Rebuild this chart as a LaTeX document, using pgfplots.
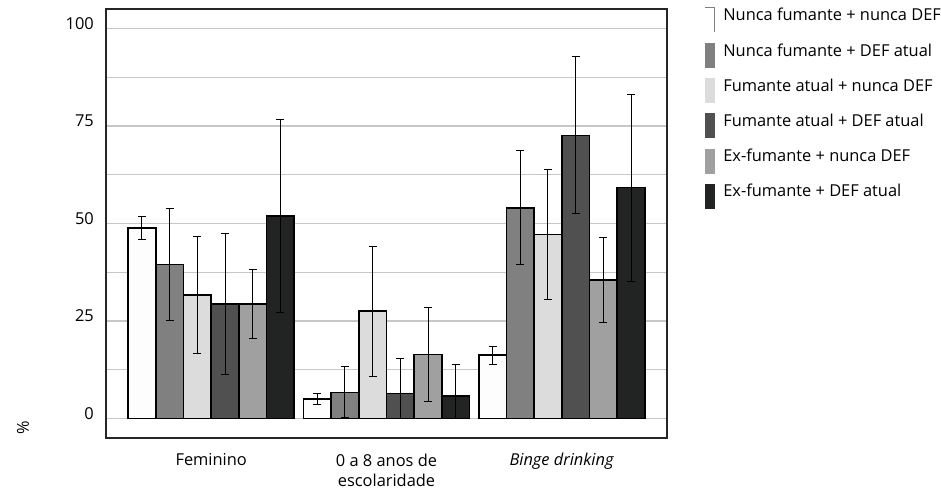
\documentclass[border=0pt]{standalone}
\usepackage{fontspec}
\setmainfont{Open Sans}
\usepackage{pgfplots}
\pgfplotsset{compat=1.18}
\definecolor{c1}{HTML}{FDFDFD}
\definecolor{c2}{HTML}{808080}
\definecolor{c3}{HTML}{DCDCDC}
\definecolor{c4}{HTML}{505050}
\definecolor{c5}{HTML}{A0A0A0}
\definecolor{c6}{HTML}{222424}
\pgfplotsset{
  leg/.style={legend image code/.code={\fill[##1,draw=none] (0pt,-17.5pt) rectangle (10pt,7.5pt);}},
  legA/.style={legend image code/.code={\path[fill=white,draw=none] (0pt,-17.5pt) rectangle (10pt,7.5pt);\path[draw=gray,fill=none,line width=0.6pt] (0pt,7.5pt) -- (10pt,7.5pt) -- (10pt,-17.5pt);}},
  myerr/.style={error bars/.cd, y dir=both, y explicit,
    error bar style={line width=1pt,black},
    error mark options={rotate=90,mark size=4pt,line width=1pt,black}},
  barst/.style={fill=#1, draw=black, line width=1.7pt},
}
\begin{document}
\begin{tikzpicture}[font=\fontsize{16.4}{21}\selectfont]
\useasboundingbox (0,0) rectangle (941pt,491pt);
\begin{axis}[
  at={(106pt,53pt)}, anchor=south west,
  scale only axis, width=561pt, height=429pt,
  xmin=-0.6, xmax=2.6, ymin=-5, ymax=105,
  ybar=0pt, bar width=0.158,
  xtick={0,1,2},
  xticklabels={Feminino,{0 a 8 anos de\\escolaridade},\textit{Binge drinking}},
  xticklabel style={align=center, yshift=-12pt, font=\fontsize{16.4}{21}\selectfont},
  ytick={0,25,50,75,100}, minor ytick={12.5,37.5,62.5,87.5},
  ymajorgrids, yminorgrids,
  major grid style={line width=1.2pt, color=black!22},
  minor grid style={line width=1.2pt, color=black!22},
  major tick length=0pt, minor tick length=0pt,
  yticklabel style={xshift=-8.7pt, yshift=5pt},
  /pgf/number format/assume math mode=true,
  axis line style={line width=1.2pt, black!85},
  legend style={at={(rel axis cs:1.066,1.0047)}, anchor=north west,
    draw=none, fill=none, inner sep=0pt, row sep=10.2pt,
    nodes={inner sep=0pt},
    /tikz/every odd column/.append style={column sep=8.5pt}},
  legend cell align=left,
]
\addplot[barst=c1, legA, myerr] coordinates {
  (0,48.9) += (0,2.9) -= (0,2.9)
  (1,5.0) += (0,1.4) -= (0,1.4)
  (2,16.2) += (0,2.3) -= (0,2.4)
};
\addlegendentry{Nunca fumante + nunca DEF}
\addplot[barst=c2, leg, myerr] coordinates {
  (0,39.5) += (0,14.3) -= (0,14.4)
  (1,6.7) += (0,6.7) -= (0,6.5)
  (2,54.0) += (0,14.7) -= (0,14.5)
};
\addlegendentry{Nunca fumante + DEF atual}
\addplot[barst=c3, leg, myerr] coordinates {
  (0,31.7) += (0,15.0) -= (0,15.1)
  (1,27.5) += (0,16.6) -= (0,16.7)
  (2,47.2) += (0,16.6) -= (0,16.6)
};
\addlegendentry{Fumante atual + nunca DEF}
\addplot[barst=c4, leg, myerr] coordinates {
  (0,29.4) += (0,18.1) -= (0,18.1)
  (1,6.4) += (0,9.1) -= (0,6.4)
  (2,72.6) += (0,20.2) -= (0,20.0)
};
\addlegendentry{Fumante atual + DEF atual}
\addplot[barst=c5, leg, myerr] coordinates {
  (0,29.3) += (0,8.8) -= (0,8.8)
  (1,16.4) += (0,12.0) -= (0,12.1)
  (2,35.5) += (0,10.8) -= (0,10.8)
};
\addlegendentry{Ex-fumante + nunca DEF}
\addplot[barst=c6, leg, myerr] coordinates {
  (0,52.0) += (0,24.7) -= (0,24.8)
  (1,5.8) += (0,8.0) -= (0,5.8)
  (2,59.2) += (0,24.0) -= (0,24.0)
};
\addlegendentry{Ex-fumante + DEF atual}
\end{axis}
\node[rotate=90] at (23pt,63pt) {\%};
\end{tikzpicture}
\end{document}
